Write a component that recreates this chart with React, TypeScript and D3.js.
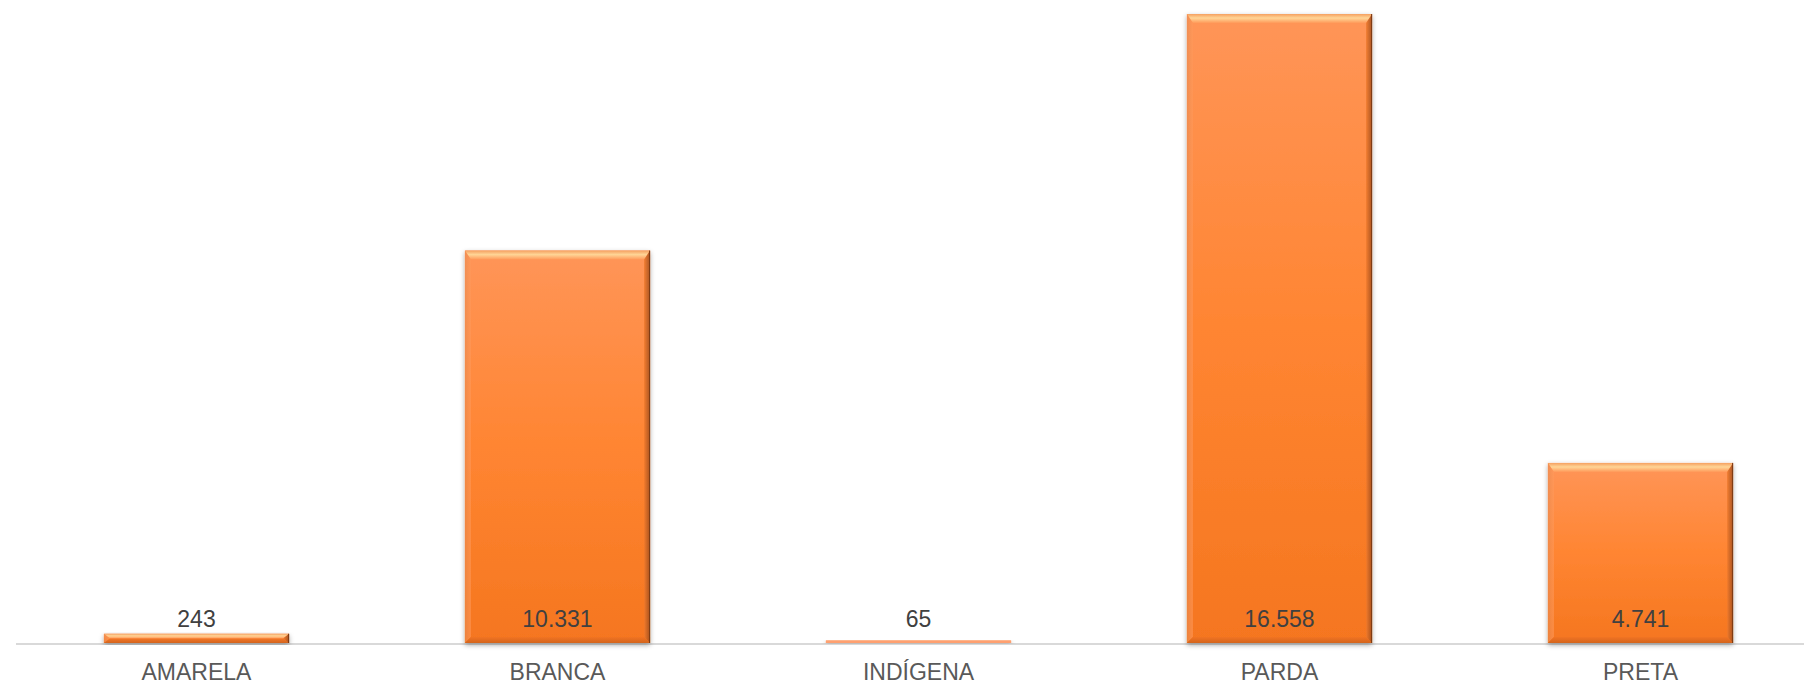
import React from "react";
import * as d3 from "d3";

const categories = ["AMARELA", "BRANCA", "INDÍGENA", "PARDA", "PRETA"];
const values = [243, 10331, 65, 16558, 4741];
const valueLabels = ["243", "10.331", "65", "16.558", "4.741"];

const W = 1804;
const H = 686;
const baseY = 643;
const topY = 14;

export default function App() {
  const x = d3
    .scaleBand<string>()
    .domain(categories)
    .range([16, 1821])
    .paddingInner(0.487)
    .paddingOuter(0.2435);
  const y = d3.scaleLinear().domain([0, 16558]).range([baseY, topY]);

  const bw = x.bandwidth();

  return (
    <svg
      width={W}
      height={H}
      style={{ position: "absolute", left: 0, top: 0, display: "block" }}
      fontFamily="'Liberation Sans', Arial, sans-serif"
    >
      <defs>
        <linearGradient id="body" x1="0" y1="0" x2="0" y2="1">
          <stop offset="0" stopColor="#FF9558" />
          <stop offset="0.5" stopColor="#FF8532" />
          <stop offset="1" stopColor="#F5761F" />
        </linearGradient>
        <linearGradient id="topBevel" x1="0" y1="0" x2="0" y2="1">
          <stop offset="0" stopColor="#F5A060" />
          <stop offset="0.45" stopColor="#FFD596" />
          <stop offset="1" stopColor="#FF9A5A" />
        </linearGradient>
        <linearGradient id="rightBevel" x1="0" y1="0" x2="1" y2="0">
          <stop offset="0" stopColor="#F07A2C" />
          <stop offset="1" stopColor="#9A4A1C" />
        </linearGradient>
        <linearGradient id="leftBevel" x1="0" y1="0" x2="1" y2="0">
          <stop offset="0" stopColor="#E88A50" />
          <stop offset="1" stopColor="#FF9A5C" />
        </linearGradient>
        <linearGradient id="bottomBevel" x1="0" y1="0" x2="0" y2="1">
          <stop offset="0" stopColor="#F07324" />
          <stop offset="1" stopColor="#C85E1C" />
        </linearGradient>
        <filter id="shadow" x="-10%" y="-10%" width="120%" height="130%">
          <feDropShadow dx="0" dy="2" stdDeviation="2.5" floodColor="#000" floodOpacity="0.35" />
        </filter>
      </defs>

      <line x1={16} x2={W} y1={baseY + 1} y2={baseY + 1} stroke="#D9D9D9" strokeWidth={2} />

      {categories.map((c, i) => {
        const x0 = x(c) as number;
        const x1 = x0 + bw;
        const y0 = y(values[i]);
        const y1 = baseY;
        const h = y1 - y0;
        const bt = Math.min(9, h / 2);
        const bb = Math.min(6, h / 2);
        const bl = Math.min(6, bw / 2);
        const br = Math.min(6, bw / 2);
        const pts = (p: number[][]) => p.map((q) => q.join(",")).join(" ");
        return (
          <g key={c}>
            <rect x={x0} y={y0} width={bw} height={h} fill="url(#body)" filter="url(#shadow)" />
            {h > 3 && (
              <g>
                <polygon
                  points={pts([[x0, y0], [x1, y0], [x1 - br, y0 + bt], [x0 + bl, y0 + bt]])}
                  fill="url(#topBevel)"
                />
                <polygon
                  points={pts([[x0, y0], [x0 + bl, y0 + bt], [x0 + bl, y1 - bb], [x0, y1]])}
                  fill="url(#leftBevel)"
                  opacity={0.6}
                />
                <polygon
                  points={pts([[x1, y0], [x1, y1], [x1 - br, y1 - bb], [x1 - br, y0 + bt]])}
                  fill="url(#rightBevel)"
                  opacity={0.85}
                />
                <polygon
                  points={pts([[x0, y1], [x0 + bl, y1 - bb], [x1 - br, y1 - bb], [x1, y1]])}
                  fill="url(#bottomBevel)"
                  opacity={0.75}
                />
                <line x1={x1 - 0.5} x2={x1 - 0.5} y1={y0} y2={y1} stroke="#7A3A14" strokeWidth={1} />
              </g>
            )}
            {h <= 3 && <rect x={x0} y={y0} width={bw} height={h} fill="#FFA070" />}
            <text
              x={x0 + bw / 2}
              y={baseY - 16}
              textAnchor="middle"
              fontSize={23}
              fill="#404040"
            >
              {valueLabels[i]}
            </text>
            <text
              x={x0 + bw / 2}
              y={680}
              textAnchor="middle"
              fontSize={23}
              fill="#595959"
            >
              {c}
            </text>
          </g>
        );
      })}
    </svg>
  );
}
